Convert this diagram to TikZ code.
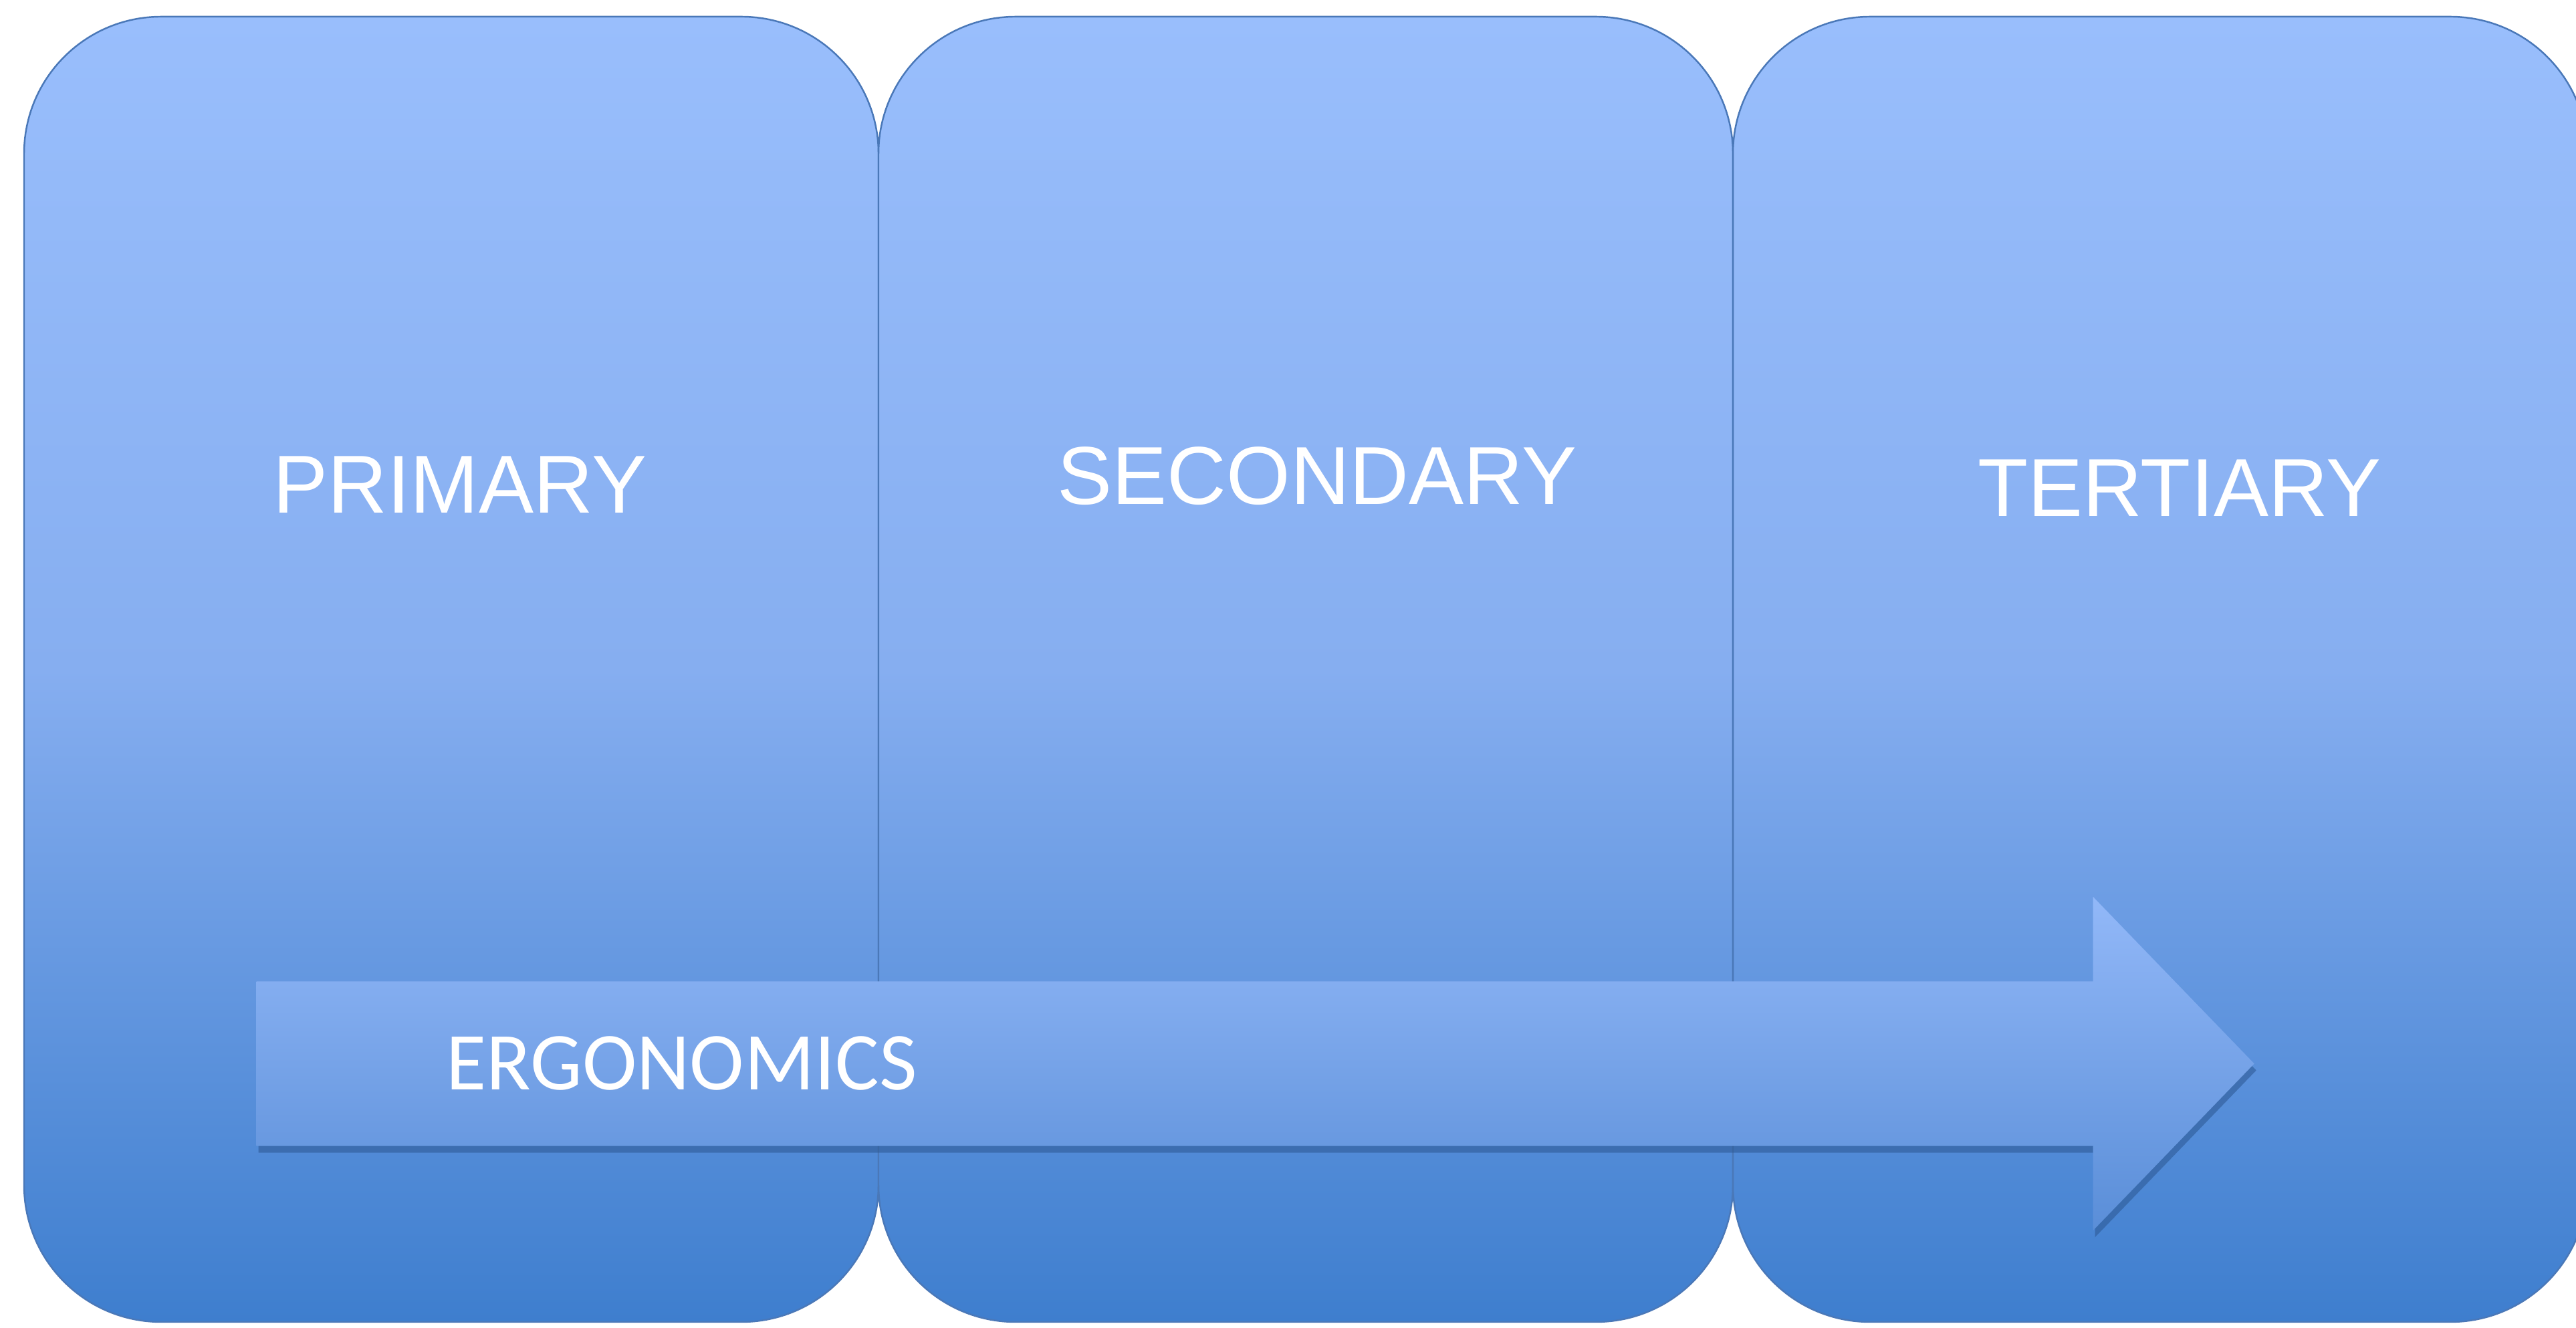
\documentclass[tikz,border=0pt]{standalone}
\usepackage{fontspec}
\setmainfont{Liberation Sans}
\newfontfamily\ergofont{Carlito}
\usepackage{tikz}
\usetikzlibrary{positioning,shapes.arrows,shadows}

\definecolor{stagetop}{HTML}{99BEFC}
\definecolor{stagemid}{HTML}{86AEF0}
\definecolor{stagebot}{HTML}{3E7ECE}
\definecolor{stageline}{HTML}{4A78B8}
\definecolor{flowtop}{HTML}{92B8F8}
\definecolor{flowbot}{HTML}{5A8ED8}
\definecolor{flowshade}{HTML}{2E5A96}

\begin{document}
\begin{tikzpicture}[
    stage/.style={draw=stageline, line width=0.7pt, rounded corners=2.05cm,
      minimum width=12.78cm, minimum height=19.53cm, inner sep=0pt, outer sep=0pt,
      top color=stagetop, bottom color=stagebot, middle color=stagemid},
    stagelabel/.style={text=white, font=\fontsize{35pt}{40pt}\selectfont, inner sep=0pt},
    flow/.style={single arrow, shape border rotate=0, inner xsep=0pt, inner ysep=1.225cm,
      single arrow head extend=1.265cm, single arrow tip angle=92,
      minimum height=29.88cm, top color=flowtop, bottom color=flowbot,
      drop shadow={shadow xshift=0.03cm, shadow yshift=-0.1cm, fill=flowshade, opacity=0.6}},
    flowlabel/.style={text=white, font=\ergofont\fontsize{35pt}{40pt}\selectfont, inner sep=0pt}
  ]
   \useasboundingbox (0,0) rectangle (38.53,19.87);
   \fill[white] (0,0) rectangle (38.53,19.87);
   \clip (0,0) rectangle (38.53,19.87);
   % three stages side by side
   \node[stage] (prim) at (6.75,9.855) {};
   \node[stage, right=0pt of prim] (sec) {};
   \node[stage, right=0pt of sec] (tert) {};
   \node[stagelabel] (primlab) at (6.88,12.62) {PRIMARY};
   \node[stagelabel] (seclab) at (19.70,12.75) {SECONDARY};
   \node[stagelabel] (tertlab) at (32.60,12.57) {TERTIARY};
   % arrow across the stages
   \node[flow, anchor=tail] (flow) at (3.83,3.955) {};
   \node[flowlabel, right=2.84cm of flow.tail] (ergo) {ERGONOMICS};
\end{tikzpicture}
\end{document}
